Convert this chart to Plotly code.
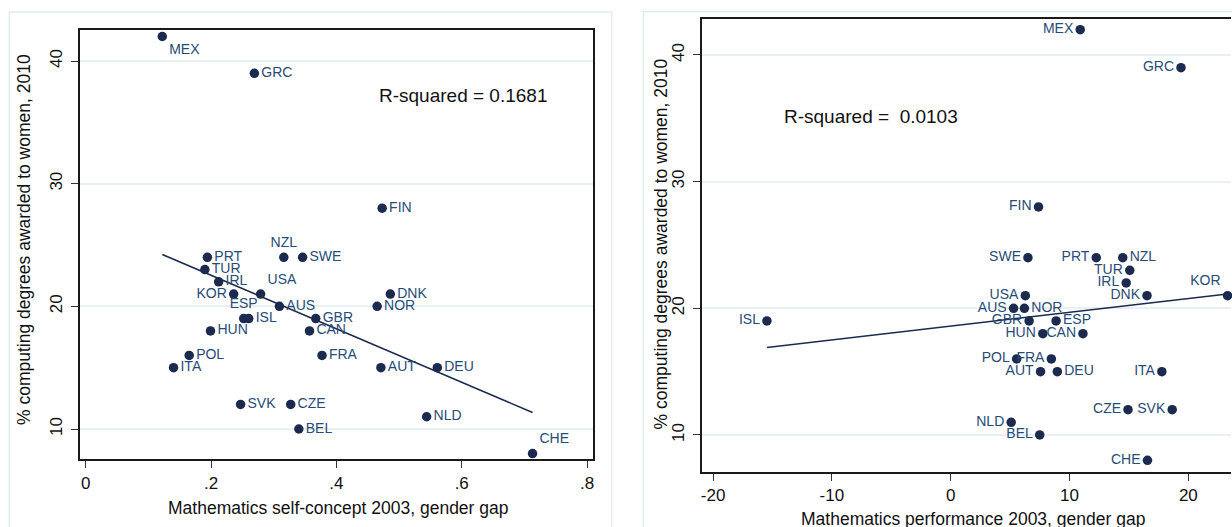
import numpy as np
import plotly.graph_objects as go

W, H = 1232, 527

# ---------------- data: left panel (self-concept gap) ----------------
countries_l = ["MEX", "GRC", "FIN", "PRT", "NZL", "SWE", "TUR", "IRL", "KOR", "USA",
               "AUS", "NOR", "DNK", "ESP", "ISL", "GBR", "HUN", "CAN", "POL", "FRA",
               "ITA", "AUT", "DEU", "SVK", "CZE", "NLD", "BEL", "CHE"]
selfconcept_gap = [0.122, 0.269, 0.473, 0.194, 0.316, 0.346, 0.190, 0.212, 0.236, 0.279,
                   0.309, 0.465, 0.486, 0.252, 0.260, 0.367, 0.199, 0.357, 0.165, 0.377,
                   0.140, 0.471, 0.561, 0.247, 0.327, 0.544, 0.340, 0.713]
women_pct_l = [42, 39, 28, 24, 24, 24, 23, 22, 21, 21,
               20, 20, 21, 19, 19, 19, 18, 18, 16, 16,
               15, 15, 15, 12, 12, 11, 10, 8]
labelpos_l = ["bottom right", "middle right", "middle right", "middle right", "top center",
              "middle right", "middle right", "middle right", "middle left", "top right",
              "middle right", "middle right", "middle right", "top center", "middle right",
              "middle right", "middle right", "middle right", "middle right", "middle right",
              "middle right", "middle right", "middle right", "middle right", "middle right",
              "middle right", "middle right", "top right"]

# ---------------- data: right panel (performance gap) ----------------
countries_r = ["MEX", "GRC", "FIN", "SWE", "PRT", "NZL", "TUR", "IRL", "KOR", "DNK",
               "USA", "AUS", "NOR", "GBR", "ESP", "ISL", "HUN", "CAN", "POL", "FRA",
               "AUT", "DEU", "ITA", "CZE", "SVK", "NLD", "BEL", "CHE"]
performance_gap = [10.9, 19.38, 7.39, 6.5, 12.25, 14.48, 15.07, 14.77, 23.3, 16.52,
                   6.28, 5.29, 6.2, 6.6, 8.87, -15.47, 7.75, 11.13, 5.55, 8.47,
                   7.56, 8.97, 17.77, 14.92, 18.64, 5.09, 7.49, 16.56]
women_pct_r = [42, 39, 28, 24, 24, 24, 23, 22, 21, 21,
               21, 20, 20, 19, 19, 19, 18, 18, 16, 16,
               15, 15, 15, 12, 12, 11, 10, 8]
labelpos_r = ["middle left", "middle left", "middle left", "middle left", "middle left",
              "middle right", "middle left", "middle left", "top left", "middle left",
              "middle left", "middle left", "middle right", "middle left", "middle right",
              "middle left", "middle left", "middle left", "middle left", "middle left",
              "middle left", "middle right", "middle left", "middle left", "middle left",
              "middle left", "middle left", "middle left"]

r2_text_l = "R-squared = 0.1681"
r2_text_r = "R-squared = \u00a00.0103"
ytitle = "% computing degrees awarded to women, 2010"
xtitle_l = "Mathematics self-concept 2003, gender gap"
xtitle_r = "Mathematics performance 2003, gender gap"
xticks_l = [0, 0.2, 0.4, 0.6, 0.8]
xticktext_l = ["0", ".2", ".4", ".6", ".8"]
xticks_r = [-20, -10, 0, 10, 20]
xticktext_r = ["-20", "-10", "0", "10", "20"]
yticks = [10, 20, 30, 40]

# ---------------- styling ----------------
MARK = "#1b2a4e"
LAB = "#284c76"
GRID = "#e8f0f2"
BOX = "#e2ecee"
FONT = "Arial, Liberation Sans, sans-serif"


def px(x):
    return x / W


def py(y):
    return 1 - y / H


def fit_line(x, y):
    x = np.asarray(x, float)
    y = np.asarray(y, float)
    b, a = np.polyfit(x, y, 1)
    xs = np.array([x.min(), x.max()])
    return xs, a + b * xs


fig = go.Figure()

# left panel
xs, ys = fit_line(selfconcept_gap, women_pct_l)
fig.add_trace(go.Scatter(x=xs, y=ys, mode="lines", line=dict(color=MARK, width=1.6),
                         xaxis="x", yaxis="y", showlegend=False, hoverinfo="skip"))
fig.add_trace(go.Scatter(x=selfconcept_gap, y=women_pct_l, mode="markers+text",
                         text=countries_l, textposition=labelpos_l,
                         textfont=dict(family=FONT, size=14, color=LAB),
                         marker=dict(color=MARK, size=9.5), cliponaxis=False,
                         xaxis="x", yaxis="y", showlegend=False))

# right panel
xs, ys = fit_line(performance_gap, women_pct_r)
fig.add_trace(go.Scatter(x=xs, y=ys, mode="lines", line=dict(color=MARK, width=1.6),
                         xaxis="x2", yaxis="y2", showlegend=False, hoverinfo="skip"))
fig.add_trace(go.Scatter(x=performance_gap, y=women_pct_r, mode="markers+text",
                         text=countries_r, textposition=labelpos_r,
                         textfont=dict(family=FONT, size=14, color=LAB),
                         marker=dict(color=MARK, size=9.5), cliponaxis=False,
                         xaxis="x2", yaxis="y2", showlegend=False))

axis_common = dict(showline=True, linecolor="#1a1a1a", linewidth=1.6,
                   ticks="outside", ticklen=7, tickwidth=1.2, tickcolor="#333",
                   tickfont=dict(family=FONT, size=17, color="#111"),
                   zeroline=False)

fig.update_layout(
    width=W, height=H, autosize=False,
    margin=dict(l=0, r=0, t=0, b=0),
    paper_bgcolor="white", plot_bgcolor="white",
    font=dict(family=FONT, color="#111"),
    xaxis=dict(domain=[px(78.7), px(593)], range=[-0.01, 0.8096],
               tickvals=xticks_l, ticktext=xticktext_l, showgrid=False,
               mirror=True, anchor="y", **axis_common),
    yaxis=dict(domain=[py(459.3), py(30)], range=[7.53, 42.53],
               tickvals=yticks, tickangle=-90, showgrid=True, gridcolor=GRID,
               gridwidth=1.5, mirror=True, anchor="x", ticklabelstandoff=2,
               **axis_common),
    xaxis2=dict(domain=[px(701.7), 1.0], range=[-20.97, 23.59],
                tickvals=xticks_r, ticktext=xticktext_r, showgrid=False,
                mirror=True, anchor="y2", **axis_common),
    yaxis2=dict(domain=[py(471.7), py(19)], range=[7.10, 42.84],
                tickvals=yticks, tickangle=-90, showgrid=True, gridcolor=GRID,
                gridwidth=1.5, anchor="x2", ticklabelstandoff=2,
                **axis_common),
)

# outer graph-region boxes (Stata style)
fig.add_shape(type="rect", xref="paper", yref="paper",
              x0=px(8.3), x1=px(611.7), y0=py(560), y1=py(12),
              line=dict(color=BOX, width=1.5), layer="below")
fig.add_shape(type="rect", xref="paper", yref="paper",
              x0=px(643.3), x1=px(1300), y0=py(560), y1=py(11.7),
              line=dict(color=BOX, width=1.5), layer="below")

ann = []
ann.append(dict(text=ytitle, x=px(23), y=py(239), textangle=-90))
ann.append(dict(text=ytitle, x=px(661), y=py(243.5), textangle=-90))
ann.append(dict(text=xtitle_l, x=px(338), y=py(508)))
ann.append(dict(text=xtitle_r, x=px(974), y=py(519)))
for a in ann:
    fig.add_annotation(xref="paper", yref="paper", showarrow=False,
                       xanchor="center", yanchor="middle",
                       font=dict(family=FONT, size=17.5, color="#111"), **a)

fig.add_annotation(text=r2_text_l, xref="paper", yref="paper", x=px(463), y=py(95.7),
                   showarrow=False, xanchor="center", yanchor="middle",
                   font=dict(family=FONT, size=19, color="#111"))
fig.add_annotation(text=r2_text_r, xref="paper", yref="paper", x=px(871), y=py(116.7),
                   showarrow=False, xanchor="center", yanchor="middle",
                   font=dict(family=FONT, size=19, color="#111"))

# remove the browser's default page margin so the figure sits at the window origin
fig.write_html("out.html",
               config={"displayModeBar": False},
               post_script="document.body.style.margin='0';"
                           "document.documentElement.style.margin='0';")
